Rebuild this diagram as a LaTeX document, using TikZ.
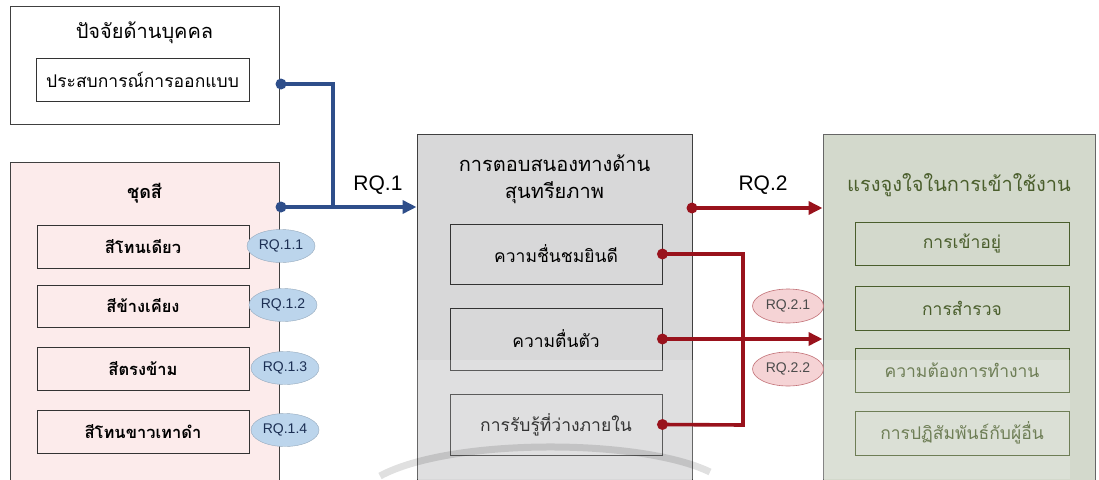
\documentclass[tikz,border=0pt]{standalone}
\usepackage{fontspec}
\usetikzlibrary{arrows.meta,shapes.geometric}
\newfontfamily\thai[Script=Thai]{Loma}
\newfontfamily\rqf{Liberation Sans}
\definecolor{bluel}{HTML}{2E4E8A}
\definecolor{redl}{HTML}{99121C}
\definecolor{pinkfill}{HTML}{FCEBEB}
\definecolor{grayfill}{HTML}{D8D8D9}
\definecolor{greenfill}{HTML}{D3D9CC}
\definecolor{greentxt}{HTML}{4A5E2C}
\definecolor{blueell}{HTML}{BCD5EC}
\definecolor{pinkell}{HTML}{F5D3D5}
\tikzset{
  outer/.style={draw=black!75, line width=1pt, inner sep=0pt},
  inner/.style={draw=black!80, line width=0.9pt, inner sep=0pt, font=\thai\fontsize{17.5}{20}\selectfont},
  ginner/.style={draw=greentxt, line width=1pt, inner sep=0pt, text=greentxt, font=\thai\fontsize{17.5}{20}\selectfont},
  title/.style={font=\thai\fontsize{20}{25}\selectfont, align=center},
  dotb/.style={circle, fill=bluel, inner sep=0pt, minimum size=11pt},
  dotr/.style={circle, fill=redl, inner sep=0pt, minimum size=11pt},
  bline/.style={draw=bluel, line width=3.6pt},
  rline/.style={draw=redl, line width=3.6pt},
  bell/.style={ellipse, fill=blueell, draw=blueell!80!black, line width=0.4pt, minimum width=68pt, minimum height=33pt, inner sep=0pt, font=\rqf\fontsize{14}{16}\selectfont, text=bluel!60!black},
  rell/.style={ellipse, fill=pinkell, draw=redl!60, line width=0.6pt, minimum width=71pt, minimum height=34pt, inner sep=0pt, font=\rqf\fontsize{14}{16}\selectfont, text=black!70},
  rq/.style={font=\rqf\fontsize{21}{24}\selectfont},
  tip/.style={-{Triangle[length=14pt,width=13pt]}}
}
\begin{document}
\begin{tikzpicture}[x=1pt,y=-1pt]
\useasboundingbox (0,0) rectangle (1099,479);
\fill[white] (0,0) rectangle (1099,479);
% left top box
\node[outer, fill=white, minimum width=269pt, minimum height=118pt] (pers) at (144.5,65) {};
\node[title] (perst) at (144.5,33) {ปัจจัยด้านบุคคล};
\node[inner, fill=white, minimum width=213pt, minimum height=43pt] (exp) at (142.5,79.5) {ประสบการณ์การออกแบบ};
% pink box
\node[outer, fill=pinkfill, minimum width=269pt, minimum height=318pt] (col) at (144.5,321) {};
\node[title, font=\thai\bfseries\fontsize{18}{22}\selectfont] (colt) at (144.5,193) {ชุดสี};
\node[inner, fill=pinkfill, minimum width=212pt, minimum height=43pt, font=\thai\bfseries\fontsize{16.5}{19}\selectfont] (c1) at (143,246.5) {สีโทนเดียว};
\node[inner, fill=pinkfill, minimum width=212pt, minimum height=42pt, font=\thai\bfseries\fontsize{16.5}{19}\selectfont] (c2) at (143,306) {สีข้างเคียง};
\node[inner, fill=pinkfill, minimum width=212pt, minimum height=43pt, font=\thai\bfseries\fontsize{16.5}{19}\selectfont] (c3) at (143,368.5) {สีตรงข้าม};
\node[inner, fill=pinkfill, minimum width=212pt, minimum height=43pt, font=\thai\bfseries\fontsize{16.5}{19}\selectfont] (c4) at (143,431.5) {สีโทนขาวเทาดำ};
\node[bell] (r11) at (281,246) {RQ.1.1};
\node[bell] (r12) at (283,305) {RQ.1.2};
\node[bell] (r13) at (285,368) {RQ.1.3};
\node[bell] (r14) at (285,430) {RQ.1.4};
% middle box
\node[outer, fill=grayfill, minimum width=275pt, minimum height=346pt] (aes) at (554.5,307) {};
\node[title] (aest) at (554.5,179) {การตอบสนองทางด้าน\\[2pt]สุนทรียภาพ};
\node[inner, fill=grayfill, minimum width=212pt, minimum height=60pt] (a1) at (556,254) {ความชื่นชมยินดี};
\node[inner, fill=grayfill, minimum width=212pt, minimum height=62pt] (a2) at (556,339) {ความตื่นตัว};
\node[inner, fill=grayfill, minimum width=212pt, minimum height=61pt] (a3) at (556,424.5) {การรับรู้ที่ว่างภายใน};
% right box
\node[outer, draw=black!60, fill=greenfill, minimum width=272pt, minimum height=346pt] (mot) at (959,307) {};
\node[title, text=greentxt] (mott) at (959,185) {แรงจูงใจในการเข้าใช้งาน};
\node[ginner, fill=greenfill, minimum width=214pt, minimum height=43pt] (m1) at (962,243.5) {การเข้าอยู่};
\node[ginner, fill=greenfill, minimum width=214pt, minimum height=44pt] (m2) at (962,308) {การสำรวจ};
\node[ginner, fill=greenfill, minimum width=214pt, minimum height=44pt] (m3) at (962,370) {ความต้องการทำงาน};
\node[ginner, fill=greenfill, minimum width=214pt, minimum height=44pt] (m4) at (962,433) {การปฏิสัมพันธ์กับผู้อื่น};
% faint watermark
\fill[white, opacity=0.2] (400,360) rectangle (1070,479);
\draw[black, opacity=0.12, line width=7pt] (380,476) .. controls (450,438) and (640,438) .. (710,472);
% connector points
\coordinate (pdot) at (281,84);
\coordinate (cdot) at (281,207);
\coordinate (adot) at (692,208);
\coordinate (jb) at (333,84);
\coordinate (jr1) at (743,254);
\coordinate (jr3) at (743,425);
% blue connectors
\draw[bline] (pdot) -- (jb) -- (jb |- cdot);
\draw[bline, tip] (cdot) -- (cdot -| aes.west);
\node[dotb] (pd) at (pdot) {};
\node[dotb] (cd) at (cdot) {};
\node[rq] (rq1) at (378,185) {RQ.1};
% red connectors
\draw[rline, tip] (adot) -- (adot -| mot.west);
\draw[rline] (a1.east) -- (jr1) -- (jr3) -- (a3.east);
\draw[rline, tip] (a2.east) -- (a2.east -| mot.west);
\node[dotr] (ad) at (adot) {};
\node[dotr] (d1) at (a1.east) {};
\node[dotr] (d2) at (a2.east) {};
\node[dotr] (d3) at (a3.east) {};
\node[rq] (rq2) at (763,185) {RQ.2};
\node[rell] (r21) at (788,306) {RQ.2.1};
\node[rell] (r22) at (788,369) {RQ.2.2};
\end{tikzpicture}
\end{document}
